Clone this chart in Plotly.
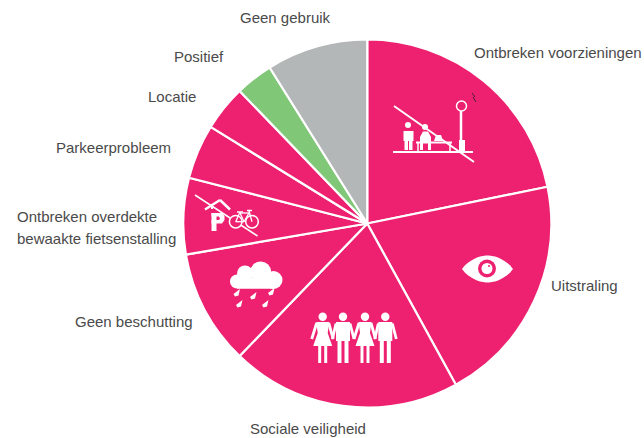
import math
import plotly.graph_objects as go

W, H = 644, 438
categories = ["Ontbreken voorzieningen", "Uitstraling", "Sociale veiligheid", "Geen beschutting",
              "Ontbreken overdekte bewaakte fietsenstalling", "Parkeerprobleem", "Locatie", "Positief", "Geen gebruik"]
values = [21.8, 20.2, 20.2, 10.1, 6.7, 4.8, 4.0, 3.3, 8.9]
PINK, GREEN, GREY = "#ED2170", "#80C777", "#B4B7B8"
slice_colors = [PINK] * 7 + [GREEN, GREY]
label_text = ["Ontbreken voorzieningen", "Uitstraling", "Sociale veiligheid", "Geen beschutting",
              "Ontbreken overdekte", "bewaakte fietsenstalling", "Parkeerprobleem", "Locatie", "Positief", "Geen gebruik"]
label_x = [644, 620, 368, 195, 159, 178, 173, 198, 226, 333]
label_y = [53, 285, 428, 321, 216, 238, 147, 96, 56, 18]

fx = lambda x: x / W
fy = lambda y: 1 - y / H
shapes = []


def line(x0, y0, x1, y1, w=2, c="white"):
    shapes.append(dict(type="line", xref="paper", yref="paper", x0=fx(x0), y0=fy(y0), x1=fx(x1), y1=fy(y1),
                       line=dict(color=c, width=w)))


def circle(cx, cy, r, fill="white", stroke=None, w=0):
    shapes.append(dict(type="circle", xref="paper", yref="paper", x0=fx(cx - r), x1=fx(cx + r),
                       y0=fy(cy + r), y1=fy(cy - r), fillcolor=fill,
                       line=dict(color=stroke or fill, width=w)))


def poly(pts, fill="white"):
    path = "M" + " L".join(f"{fx(x):.5f},{fy(y):.5f}" for x, y in pts) + " Z"
    shapes.append(dict(type="path", xref="paper", yref="paper", path=path, fillcolor=fill, line=dict(width=0)))


def rect(x0, y0, x1, y1, fill="white"):
    poly([(x0, y0), (x1, y0), (x1, y1), (x0, y1)], fill)


# bench and lamp icon
line(394, 106, 474, 162, 2)
line(393, 152, 473, 152, 2)
circle(461.5, 106, 5, PINK, "white", 1.5)
line(461, 111, 461, 142, 2.5)
rect(459, 140, 465, 151)
circle(408, 125, 3)
rect(403.5, 131, 413.5, 141)
rect(404.5, 140, 408, 150)
rect(409, 140, 412.5, 150)
circle(425, 127, 3)
poly([(420, 137), (423, 131.5), (428, 131.5), (431, 137), (431, 150), (428, 150), (428, 143), (423, 143), (423, 150), (420, 150)])
poly([(434, 141), (436, 135), (441, 135), (443, 141)])
line(416, 142.5, 452, 142.5, 2)
line(418, 143, 418, 151, 1.5)
line(450, 143, 450, 151, 1.5)
line(472, 93, 475, 97, 0.8, "#222222")
line(473, 97, 476, 102, 0.8, "#222222")

# eye icon
poly([(462 + t, 269 - 13.5 * math.sin(math.pi * t / 51) ** 0.75) for t in range(0, 52, 3)]
     + [(462 + t, 269 + 13.5 * math.sin(math.pi * t / 51) ** 0.75) for t in range(51, -1, -3)])
circle(487, 268.5, 9, PINK)
circle(487, 268.5, 5.5)
circle(489, 266, 1, PINK)

# four people icon
for i, cx in enumerate([322.7, 343, 365, 385.3]):
    circle(cx, 316.7, 4.2)
    if i % 2 == 0:
        poly([(cx - 6.5, 322), (cx + 6.5, 322), (cx + 5, 333), (cx + 9.5, 346), (cx - 9.5, 346), (cx - 5, 333)])
        line(cx - 3, 346, cx - 3, 363, 3)
        line(cx + 3, 346, cx + 3, 363, 3)
        line(cx - 6, 323, cx - 11, 339, 2.8)
        line(cx + 6, 323, cx + 10.5, 339, 2.8)
    else:
        rect(cx - 7, 322, cx + 7, 341)
        line(cx - 3.5, 340, cx - 3.5, 363, 4)
        line(cx + 3.5, 340, cx + 3.5, 363, 4)
        line(cx - 7, 323.5, cx - 10.5, 339, 2.8)
        line(cx + 7, 323.5, cx + 11, 339, 2.8)

# rain cloud icon
circle(245, 273.5, 8)
circle(260.7, 272, 10.5)
circle(273.5, 280, 9)
circle(237, 281.5, 7)
rect(237, 278, 274, 288.7)
for dx, dy in [(236.5, 293), (253, 296), (271, 292), (239, 304), (265, 304)]:
    poly([(dx + 3.5, dy - 4), (dx + 2, dy + 2.5), (dx - 1.5, dy + 3.5), (dx - 3, dy + 1)])

# parking and bicycle icon
line(195, 195, 257.5, 236, 1.5)
line(205, 209.5, 220, 200, 2.5)
line(220, 200, 230, 209.5, 2.5)
line(212, 204, 212, 209, 2)
rect(211.5, 213, 216.5, 231)
poly([(211.5, 213), (222, 213), (224.5, 216), (224.5, 220), (222, 223.5), (211.5, 223.5),
      (211.5, 220), (219, 220), (220, 218.5), (219, 216.5), (211.5, 216.5)])
circle(235.7, 221.7, 6.3, PINK, "white", 1.5)
circle(252, 221.7, 6.3, PINK, "white", 1.5)
line(235.7, 221.7, 240, 212, 1.3)
line(240, 213, 249, 213, 1.3)
line(249, 211, 252, 221.7, 1.3)
line(235.7, 221.7, 244, 221.7, 1.3)
line(240, 213, 244, 221.7, 1.3)
line(244, 221.7, 249, 213, 1.3)
line(237, 212, 243, 212, 1.5)
line(247, 210.5, 252, 210.5, 1.5)

fig = go.Figure(go.Pie(
    labels=categories, values=values, sort=False, direction="clockwise", rotation=0,
    marker=dict(colors=slice_colors, line=dict(color="white", width=2.2)),
    textinfo="none", hoverinfo="label+percent", showlegend=False,
    domain=dict(x=[183 / W, 551.5 / W], y=[1 - 407.5 / H, 1 - 39.5 / H]),
))
annotations = []
for text, x, y in zip(label_text, label_x, label_y):
    annotations.append(dict(text=text, xref="paper", yref="paper", x=fx(x), y=fy(y), xanchor="right",
                            yanchor="middle", align="left", showarrow=False,
                            font=dict(family="Liberation Sans", size=15, color="#4A4A4A")))
fig.update_layout(width=W, height=H, margin=dict(l=0, r=0, t=0, b=0), paper_bgcolor="white",
                  shapes=shapes, annotations=annotations, showlegend=False)
fig.write_html("out.html", config=dict(displayModeBar=False),
               post_script="document.body.style.margin='0';document.documentElement.style.overflow='hidden';")
